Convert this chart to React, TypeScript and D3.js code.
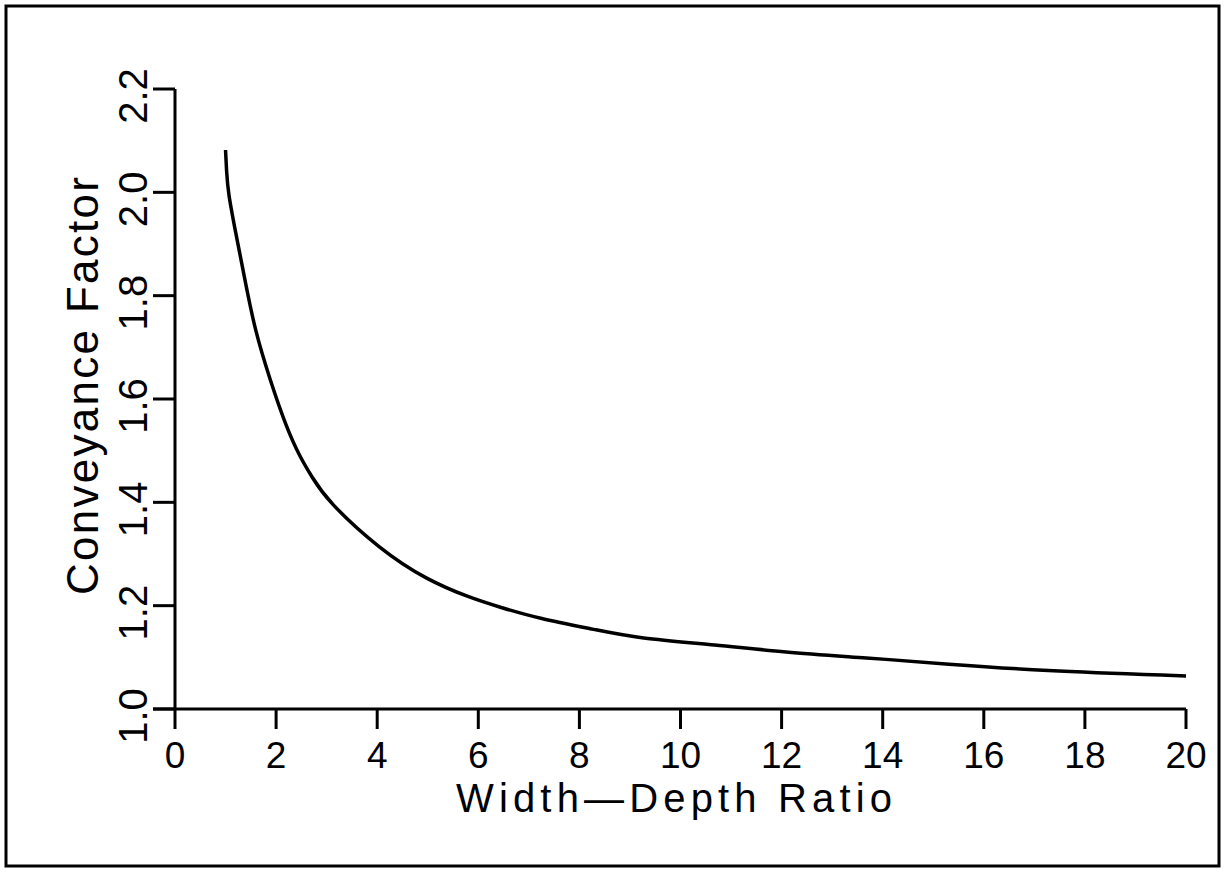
import { useEffect, useRef } from 'react';
import * as d3 from 'd3';

// curve
const ratio = [1.0, 1.02, 1.05, 1.19, 1.385, 1.58, 1.88, 2.2, 2.47, 2.71, 3.0, 4.06, 4.98, 5.84, 6.43, 7.16, 8.35, 9.14, 10.72, 12.03, 13.69, 15.27, 17.1, 20];
const factor = [2.082, 2.04, 2.0, 1.927, 1.83, 1.733, 1.637, 1.546, 1.488, 1.449, 1.404, 1.308, 1.25, 1.215, 1.197, 1.176, 1.153, 1.137, 1.124, 1.11, 1.099, 1.087, 1.074, 1.064];

const xTicks = [0, 2, 4, 6, 8, 10, 12, 14, 16, 18, 20];
const yTicks = [1.0, 1.2, 1.4, 1.6, 1.8, 2.0, 2.2];

const xTitle = 'Width\u2014Depth Ratio';
const yTitle = 'Conveyance Factor';

const W = 1225;
const H = 869;

export default function App() {
  const svgRef = useRef<SVGSVGElement>(null);

  useEffect(() => {
    if (!svgRef.current) return;
    const svg = d3.select(svgRef.current);
    svg.selectAll('*').remove();

    const x = d3.scaleLinear().domain([0, 20]).range([175, 1186]);
    const y = d3.scaleLinear().domain([1.0, 2.2]).range([709, 89]);
    const font = '"Liberation Sans", Arial, sans-serif';

    // page frame
    svg.append('rect')
      .attr('x', 6).attr('y', 6)
      .attr('width', 1213).attr('height', 860)
      .attr('fill', 'none')
      .attr('stroke', '#000')
      .attr('stroke-width', 3);

    // x axis
    const gx = svg.append('g');
    gx.append('line')
      .attr('x1', x(0) - 22).attr('x2', x(20))
      .attr('y1', y(1)).attr('y2', y(1))
      .attr('stroke', '#000').attr('stroke-width', 3);
    gx.selectAll('line.tick')
      .data(xTicks)
      .join('line')
      .attr('class', 'tick')
      .attr('x1', (d) => x(d)).attr('x2', (d) => x(d))
      .attr('y1', y(1)).attr('y2', y(1) + 20)
      .attr('stroke', '#000').attr('stroke-width', 3);
    gx.selectAll('text')
      .data(xTicks)
      .join('text')
      .attr('x', (d) => x(d))
      .attr('y', 768)
      .attr('text-anchor', 'middle')
      .style('font-family', font)
      .style('font-size', '37px')
      .text((d) => String(d));

    // y axis
    const gy = svg.append('g');
    gy.append('line')
      .attr('x1', x(0)).attr('x2', x(0))
      .attr('y1', y(1)).attr('y2', y(2.2))
      .attr('stroke', '#000').attr('stroke-width', 3);
    gy.selectAll('line.tick')
      .data(yTicks)
      .join('line')
      .attr('class', 'tick')
      .attr('x1', x(0) - 22).attr('x2', x(0))
      .attr('y1', (d) => y(d)).attr('y2', (d) => y(d))
      .attr('stroke', '#000').attr('stroke-width', 3);
    gy.selectAll('text')
      .data(yTicks)
      .join('text')
      .attr('transform', (d) => `translate(147,${y(d) + 7}) rotate(-90)`)
      .attr('text-anchor', 'middle')
      .style('font-family', font)
      .style('font-size', '40px')
      .text((d) => d3.format('.1f')(d));

    // titles
    svg.append('text')
      .attr('x', 674).attr('y', 812)
      .attr('text-anchor', 'middle')
      .attr('textLength', 436)
      .attr('lengthAdjust', 'spacing')
      .style('font-family', font)
      .style('font-size', '40px')
      .text(xTitle);

    svg.append('text')
      .attr('transform', 'translate(98,386) rotate(-90)')
      .attr('text-anchor', 'middle')
      .attr('textLength', 418)
      .attr('lengthAdjust', 'spacing')
      .style('font-family', font)
      .style('font-size', '44px')
      .text(yTitle);

    // curve
    const pts = ratio.map((r, i) => [r, factor[i]] as [number, number]);
    const line = d3.line<[number, number]>()
      .x((d) => x(d[0]))
      .y((d) => y(d[1]))
      .curve(d3.curveBasis);

    svg.append('path')
      .datum(pts)
      .attr('d', line)
      .attr('fill', 'none')
      .attr('stroke', '#000')
      .attr('stroke-width', 3.5);
  }, []);

  return (
    <div style={{ position: 'fixed', left: 0, top: 0, background: '#fff' }}>
      <svg ref={svgRef} width={W} height={H} style={{ display: 'block' }} />
    </div>
  );
}
